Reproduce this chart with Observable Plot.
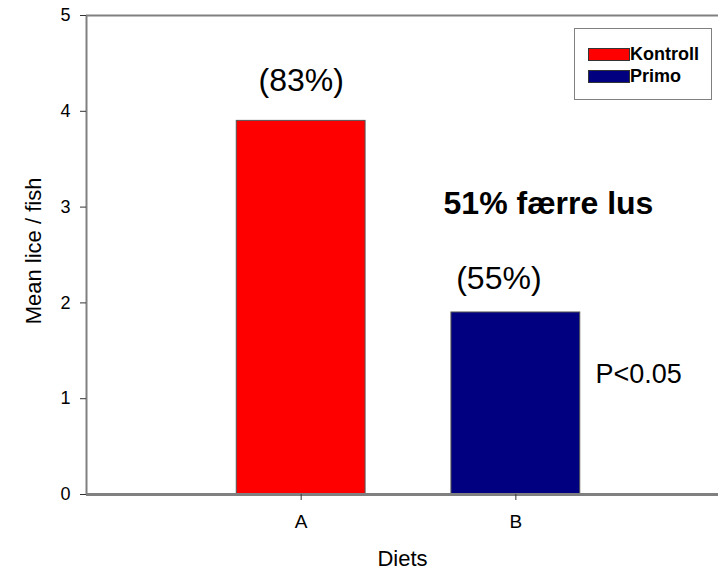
<!DOCTYPE html>
<html><head><meta charset="utf-8">
<script src="https://cdn.jsdelivr.net/npm/d3@7"></script>
<script src="https://cdn.jsdelivr.net/npm/@observablehq/plot@0.6"></script>
<style>
body{margin:0;background:#fff;font-family:"Liberation Sans",Arial,sans-serif;}
#wrap{position:relative;width:718px;height:571px;}
#legend{position:absolute;left:574px;top:28px;width:138px;height:72px;border:1px solid #808080;box-sizing:border-box;background:#fff;font-weight:bold;font-size:18px;color:#000;}
.item{position:absolute;left:13px;height:14px;display:flex;align-items:center;}
.sw{width:42px;height:13px;border:1px solid #333;box-sizing:border-box;margin-right:0px;}
</style>
</head><body>
<div id="wrap"><div id="legend"></div></div>
<script>
const diets = ["A", "B"];
const series = ["Kontroll", "Primo"];
const meanLice = [3.9, 1.9];
const prevalence = ["(83%)", "(55%)"];
const colors = ["#ff0000", "#000080"];
const yTicks = [0, 1, 2, 3, 4, 5];
const note = "51% færre lus";
const pText = "P<0.05";

const data = diets.map((d, i) => ({diet: d, pos: i + 1, value: meanLice[i], label: prevalence[i], series: series[i], color: colors[i]}));

const chart = Plot.plot({
  width: 718, height: 571,
  marginLeft: 86, marginRight: 0, marginTop: 15, marginBottom: 77,
  style: {fontFamily: "Liberation Sans, Arial, sans-serif", color: "#000", background: "#fff"},
  x: {type: "linear", domain: [0, 2.944], axis: null},
  y: {domain: [0, 5], axis: null},
  marks: [
    Plot.rect(data, {x1: d => d.pos - 0.3, x2: d => d.pos + 0.3, y1: 0, y2: "value", fill: "color", stroke: "#555", strokeWidth: 1}),
    Plot.ruleX([0], {y1: 0, y2: 5, stroke: "#808080", strokeWidth: 2}),
    Plot.ruleY([5], {stroke: "#808080", strokeWidth: 2}),
    Plot.ruleY([0], {stroke: "#808080", strokeWidth: 3}),
    Plot.axisY(yTicks, {ticks: yTicks, tickSize: 6, stroke: "#333", tickFormat: () => "", label: null}),
    Plot.axisX(data.map(d => d.pos), {ticks: data.map(d => d.pos), tickFormat: () => "", tickSize: 6, stroke: "#333", label: null}),
    Plot.text(yTicks, {x: 0, y: d => d, text: d => String(d), dx: -16, textAnchor: "end", fontSize: 18}),
    Plot.text(data, {x: "pos", y: 0, text: "diet", dy: 27, fontSize: 19}),
    Plot.text(["Diets"], {frameAnchor: "bottom", lineAnchor: "middle", dy: 64, fontSize: 22}),
    Plot.text(["Mean lice / fish"], {frameAnchor: "left", dx: -53, dy: -4, rotate: -90, textAnchor: "middle", fontSize: 22}),
    Plot.text([data[0]], {x: "pos", y: d => d.value + 0.42, text: "label", fontSize: 32}),
    Plot.text([data[1]], {x: d => d.pos - 0.079, y: d => d.value + 0.355, text: "label", fontSize: 32}),
    Plot.text([note], {x: 2.152, y: 3.03, fontSize: 32, fontWeight: "bold"}),
    Plot.text([pText], {x: 2.371, y: 1.25, textAnchor: "start", fontSize: 27})
  ]
});
document.getElementById("wrap").prepend(chart);

const leg = document.getElementById("legend");
series.forEach((s, i) => {
  const it = document.createElement("div");
  it.className = "item";
  it.style.top = (18 + i * 22) + "px";
  it.innerHTML = `<span class="sw" style="background:${colors[i]}"></span><span>${s}</span>`;
  leg.appendChild(it);
});
</script>
</body></html>
